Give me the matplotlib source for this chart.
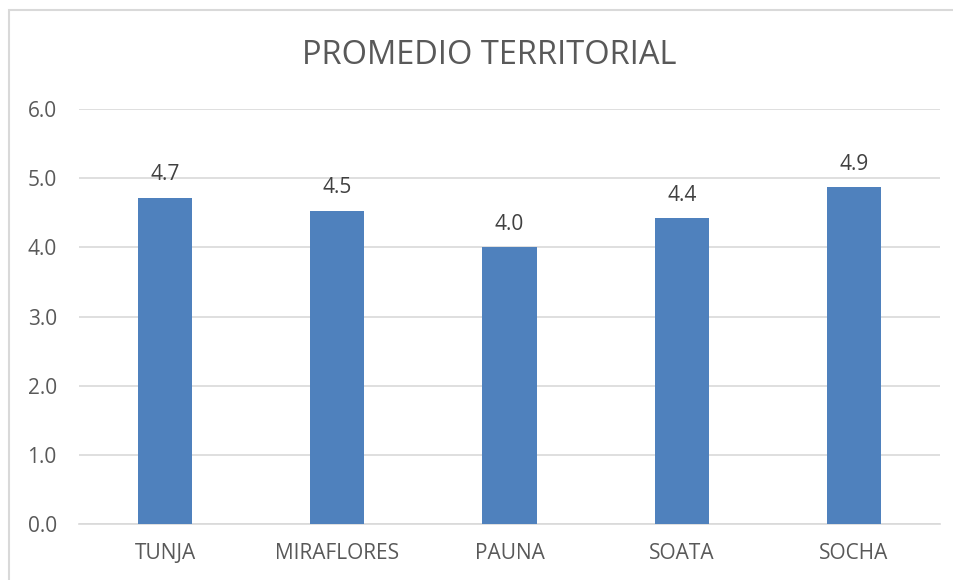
import matplotlib.pyplot as plt
from matplotlib.patches import Rectangle

# datos
municipios = ['TUNJA', 'MIRAFLORES', 'PAUNA', 'SOATA', 'SOCHA']
promedios = [4.72, 4.53, 4.0, 4.42, 4.87]
etiquetas = ['4.7', '4.5', '4.0', '4.4', '4.9']
yticks = [0, 1, 2, 3, 4, 5, 6]

plt.rcParams['font.family'] = ['Open Sans', 'DejaVu Sans']

fig = plt.figure(figsize=(9.54, 5.8), dpi=100)
ax = fig.add_axes([79/954, 1-524/580, (940-79)/954, (524-109)/580])

# marco del grafico
fig.patches.append(Rectangle((9/954, -0.01), 1.02, 1 - 10/580 + 0.01,
                             transform=fig.transFigure, fill=False,
                             edgecolor='#d9d9d9', linewidth=1.5))

bars = ax.bar(municipios, promedios, width=0.315, color='#4f81bd', zorder=3)
for b, t in zip(bars, etiquetas):
    ax.annotate(t, (b.get_x() + b.get_width()/2, b.get_height()),
                xytext=(0, 9), textcoords='offset points',
                ha='center', va='bottom', fontsize=15, color='#404040')

ax.set_ylim(0, 6)
ax.set_xlim(-0.5, 4.5)
ax.set_yticks(yticks)
ax.set_yticklabels([f'{v:.1f}' for v in yticks])
ax.grid(axis='y', color='#d9d9d9', linewidth=1.2, zorder=0)
for s in ax.spines.values():
    s.set_visible(False)
ax.spines['bottom'].set_visible(True)
ax.spines['bottom'].set_color('#d9d9d9')
ax.spines['bottom'].set_linewidth(1.2)
ax.tick_params(length=0, labelsize=15, colors='#595959')
ax.tick_params(axis='x', pad=14)
ax.tick_params(axis='y', pad=16)

fig.text(489/954, 1-55/580, 'PROMEDIO TERRITORIAL', ha='center', va='center',
         fontsize=23.5, color='#595959')

fig.savefig('out.png', dpi=100)
